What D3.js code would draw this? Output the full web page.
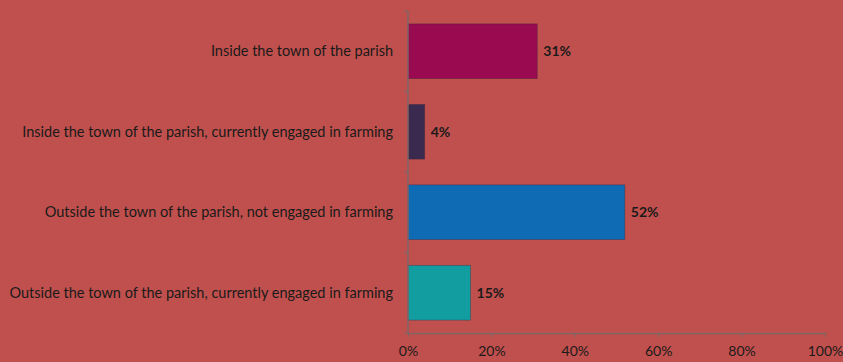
<!DOCTYPE html>
<html>
<head>
<meta charset="utf-8">
<script src="https://cdn.jsdelivr.net/npm/d3@7"></script>
<style>
  html, body { margin: 0; padding: 0; background: #C0504D; }
  svg { display: block; }
  text { font-family: Lato, "Open Sans", sans-serif; fill: #1a1a1a; }
</style>
</head>
<body>
<svg id="chart" width="843" height="362"></svg>
<script>
// Where respondents live, share of total
const categories = [
  "Inside the town of the parish",
  "Inside the town of the parish, currently engaged in farming",
  "Outside the town of the parish, not engaged in farming",
  "Outside the town of the parish, currently engaged in farming"
];
const values = [31, 4, 52, 15];
const barColors = ["#990A50", "#3B2A4F", "#0E6BB4", "#129DA0"];
const xTicks = [0, 20, 40, 60, 80, 100];

const W = 843, H = 362;
const margin = { top: 11, right: 18, bottom: 29, left: 408 };

const svg = d3.select("#chart");
const g = svg.append("g").attr("transform", `translate(${margin.left},${margin.top})`);
const iw = W - margin.left - margin.right;
const ih = H - margin.top - margin.bottom;

const x = d3.scaleLinear().domain([0, 100]).range([0, iw]);
const y = d3.scaleBand().domain(categories).range([0, ih]).paddingInner(0.32).paddingOuter(0.16);

// bars
g.selectAll("rect.bar")
  .data(values)
  .join("rect")
  .attr("class", "bar")
  .attr("x", 0)
  .attr("y", (d, i) => y(categories[i]))
  .attr("width", d => x(d))
  .attr("height", y.bandwidth())
  .attr("fill", (d, i) => barColors[i])
  .attr("stroke", "rgba(60,40,60,0.45)")
  .attr("stroke-width", 0.8);

// value labels
g.selectAll("text.val")
  .data(values)
  .join("text")
  .attr("class", "val")
  .attr("x", d => x(d) + 6)
  .attr("y", (d, i) => y(categories[i]) + y.bandwidth() / 2)
  .attr("dy", "0.35em")
  .style("font-size", "14px")
  .style("font-weight", "bold")
  .text(d => d + "%");

// x axis
const xAxis = g.append("g")
  .attr("transform", `translate(0,${ih})`)
  .call(d3.axisBottom(x).tickValues(xTicks).tickFormat(d => d + "%").tickSize(4).tickSizeOuter(0));
xAxis.select(".domain").attr("stroke", "#7f6566").attr("stroke-width", 1.5);
xAxis.selectAll(".tick line").attr("stroke", "#7f6566").attr("stroke-width", 1.2);
xAxis.selectAll(".tick text").style("font-size", "14px").attr("fill", "#1a1a1a").attr("dy", "1.15em");

// category axis with boundary ticks
const yAxisG = g.append("g");
yAxisG.append("line")
  .attr("x1", 0).attr("x2", 0).attr("y1", 0).attr("y2", ih)
  .attr("stroke", "#7f6566").attr("stroke-width", 1.5);
const bounds = d3.range(categories.length + 1).map(i => i * ih / categories.length);
yAxisG.selectAll("line.bt")
  .data(bounds)
  .join("line")
  .attr("class", "bt")
  .attr("x1", -4).attr("x2", 0)
  .attr("y1", d => d).attr("y2", d => d)
  .attr("stroke", "#7f6566").attr("stroke-width", 1.2);

yAxisG.selectAll("text.cat")
  .data(categories)
  .join("text")
  .attr("class", "cat")
  .attr("x", -15)
  .attr("y", d => y(d) + y.bandwidth() / 2)
  .attr("dy", "0.35em")
  .attr("text-anchor", "end")
  .style("font-size", "14.5px")
  .text(d => d);
</script>
</body>
</html>
